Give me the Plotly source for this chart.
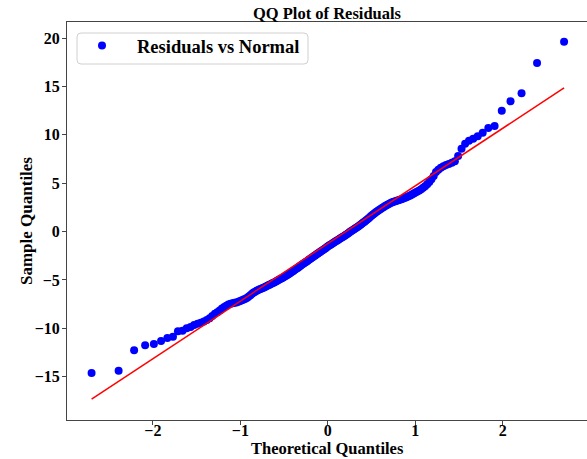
import numpy as np
import plotly.graph_objects as go

# Theoretical normal quantiles (Filliben plotting positions, n = 200)
theoretical = [
    -2.700, -2.391, -2.214, -2.088, -1.988, -1.906, -1.834, -1.770, -1.713, -1.661,
    -1.613, -1.569, -1.528, -1.489, -1.452, -1.417, -1.383, -1.351, -1.321, -1.291,
    -1.263, -1.236, -1.210, -1.184, -1.160, -1.136, -1.112, -1.089, -1.067, -1.045,
    -1.023, -1.002, -0.982, -0.962, -0.942, -0.922, -0.904, -0.885, -0.867, -0.849,
    -0.831, -0.813, -0.796, -0.779, -0.762, -0.745, -0.729, -0.713, -0.697, -0.681,
    -0.666, -0.650, -0.635, -0.619, -0.604, -0.589, -0.574, -0.560, -0.545, -0.531,
    -0.516, -0.502, -0.488, -0.474, -0.460, -0.446, -0.432, -0.419, -0.405, -0.391,
    -0.378, -0.365, -0.351, -0.338, -0.325, -0.312, -0.299, -0.286, -0.273, -0.260,
    -0.247, -0.234, -0.221, -0.208, -0.196, -0.183, -0.170, -0.158, -0.145, -0.132,
    -0.119, -0.107, -0.094, -0.082, -0.069, -0.056, -0.044, -0.031, -0.019, -0.006,
    0.006, 0.019, 0.031, 0.044, 0.056, 0.069, 0.082, 0.094, 0.107, 0.119,
    0.132, 0.145, 0.158, 0.170, 0.183, 0.196, 0.208, 0.221, 0.234, 0.247,
    0.260, 0.273, 0.286, 0.299, 0.312, 0.325, 0.338, 0.351, 0.365, 0.378,
    0.391, 0.405, 0.419, 0.432, 0.446, 0.460, 0.474, 0.488, 0.502, 0.516,
    0.531, 0.545, 0.560, 0.574, 0.589, 0.604, 0.619, 0.635, 0.650, 0.666,
    0.681, 0.697, 0.713, 0.729, 0.745, 0.762, 0.779, 0.796, 0.813, 0.831,
    0.849, 0.867, 0.885, 0.904, 0.922, 0.942, 0.962, 0.982, 1.002, 1.023,
    1.045, 1.067, 1.089, 1.112, 1.136, 1.160, 1.184, 1.210, 1.236, 1.263,
    1.291, 1.321, 1.351, 1.383, 1.417, 1.452, 1.489, 1.528, 1.569, 1.613,
    1.661, 1.713, 1.770, 1.834, 1.906, 1.988, 2.088, 2.214, 2.391, 2.700,
]

# Ordered residuals (sample quantiles)
residuals = [
    -14.62, -14.38, -12.28, -11.76, -11.62, -11.31, -11.00, -10.87, -10.31, -10.25,
    -10.00, -9.87, -9.65, -9.52, -9.42, -9.30, -9.14, -8.95, -8.72, -8.50,
    -8.33, -8.15, -7.96, -7.80, -7.66, -7.55, -7.47, -7.42, -7.37, -7.33,
    -7.26, -7.18, -7.11, -7.02, -6.95, -6.84, -6.72, -6.57, -6.43, -6.30,
    -6.21, -6.12, -6.05, -5.97, -5.90, -5.83, -5.78, -5.70, -5.62, -5.56,
    -5.49, -5.42, -5.34, -5.28, -5.20, -5.13, -5.05, -4.98, -4.91, -4.85,
    -4.78, -4.70, -4.63, -4.55, -4.47, -4.38, -4.30, -4.21, -4.12, -4.04,
    -3.95, -3.86, -3.78, -3.70, -3.61, -3.53, -3.44, -3.36, -3.28, -3.19,
    -3.12, -3.03, -2.95, -2.86, -2.79, -2.70, -2.62, -2.53, -2.46, -2.38,
    -2.30, -2.22, -2.14, -2.06, -1.98, -1.90, -1.82, -1.74, -1.66, -1.58,
    -1.50, -1.42, -1.35, -1.28, -1.20, -1.13, -1.06, -0.98, -0.91, -0.84,
    -0.77, -0.70, -0.62, -0.55, -0.48, -0.40, -0.32, -0.24, -0.16, -0.08,
    0.00, 0.08, 0.16, 0.24, 0.32, 0.40, 0.48, 0.56, 0.65, 0.74,
    0.83, 0.93, 1.03, 1.13, 1.23, 1.33, 1.44, 1.55, 1.66, 1.77,
    1.88, 1.98, 2.07, 2.16, 2.25, 2.34, 2.43, 2.52, 2.61, 2.70,
    2.78, 2.86, 2.94, 3.01, 3.07, 3.12, 3.17, 3.22, 3.27, 3.32,
    3.38, 3.44, 3.50, 3.57, 3.65, 3.74, 3.83, 3.93, 4.03, 4.14,
    4.26, 4.38, 4.52, 4.70, 4.90, 5.12, 5.40, 5.75, 6.15, 6.40,
    6.60, 6.75, 6.88, 7.00, 7.12, 7.28, 7.82, 8.57, 9.09, 9.40,
    9.61, 9.85, 10.23, 10.71, 10.92, 12.50, 13.47, 14.30, 17.44, 19.64,
]

x_ticks = [-2, -1, 0, 1, 2]
y_ticks = [-15, -10, -5, 0, 5, 10, 15, 20]

# least-squares reference line (as in scipy.stats.probplot)
slope, intercept = np.polyfit(theoretical, residuals, 1)
line_x = [min(theoretical), max(theoretical)]
line_y = [slope * v + intercept for v in line_x]

FONT = "Liberation Serif"
W, H = 587, 459
L, R, T, B = 67, 0, 22, 39
PW, PH = W - L - R, H - T - B


def px_x(px):
    return (px - L) / PW


def px_y(py):
    return (H - B - py) / PH


fig = go.Figure()
fig.add_trace(go.Scatter(
    x=theoretical, y=residuals, mode="markers", name="Residuals vs Normal",
    marker=dict(color="#0000ff", size=8, line=dict(width=0)),
))
fig.add_trace(go.Scatter(
    x=line_x, y=line_y, mode="lines", showlegend=False,
    line=dict(color="#ff0000", width=1.5),
))

axis_common = dict(
    showgrid=False, zeroline=False, showline=True, linecolor="#444444", linewidth=1,
    ticks="outside", ticklen=4, tickwidth=1, tickcolor="#444444",
    tickfont=dict(family=FONT, size=16, color="black", weight="bold"),
)

bold_x = dict(family=FONT, size=16.5, color="black", weight="bold")
bold_y = dict(family=FONT, size=17, color="black", weight="bold")

# legend frame (rounded rectangle, like matplotlib's)
x0, x1 = px_x(77), px_x(308)
y0, y1 = px_y(64), px_y(33)
rx, ry = 4 / PW, 4 / PH
path = (f"M {x0+rx},{y0} L {x1-rx},{y0} Q {x1},{y0} {x1},{y0+ry} "
        f"L {x1},{y1-ry} Q {x1},{y1} {x1-rx},{y1} L {x0+rx},{y1} "
        f"Q {x0},{y1} {x0},{y1-ry} L {x0},{y0+ry} Q {x0},{y0} {x0+rx},{y0} Z")

fig.update_layout(
    width=W, height=H,
    margin=dict(l=L, r=R, t=T, b=B),
    paper_bgcolor="white", plot_bgcolor="white",
    title=dict(text="QQ Plot of Residuals", x=0.5, xref="paper", xanchor="center",
               y=1 - 13 / H, yanchor="middle", yref="container",
               font=dict(family=FONT, size=16.5, color="black", weight="bold")),
    xaxis=dict(range=[-2.981, 2.962], tickvals=x_ticks, mirror=True,
               ticklabelstandoff=-8, **axis_common),
    yaxis=dict(range=[-19.48, 21.67], tickvals=y_ticks,
               ticklabelstandoff=-1, **axis_common),
    legend=dict(x=px_x(67), y=px_y(27), xanchor="left", yanchor="top",
                borderwidth=0, bgcolor="rgba(0,0,0,0)",
                itemwidth=60,
                font=dict(family=FONT, size=18.5, color="black", weight="bold")),
    showlegend=True,
    shapes=[dict(type="path", path=path, xref="paper", yref="paper",
                 line=dict(color="#d0d0d0", width=1), fillcolor="rgba(255,255,255,0.8)",
                 layer="below")],
    annotations=[
        dict(text="Theoretical Quantiles", xref="paper", yref="paper",
             x=0.5, y=px_y(458.5), xanchor="center", yanchor="bottom",
             borderpad=0, showarrow=False, font=bold_x),
        dict(text="Sample Quantiles", xref="paper", yref="paper",
             x=px_x(26), y=0.5, xanchor="center", yanchor="middle",
             textangle=-90, showarrow=False, font=bold_y),
    ],
)

fig.write_html("out.html")
